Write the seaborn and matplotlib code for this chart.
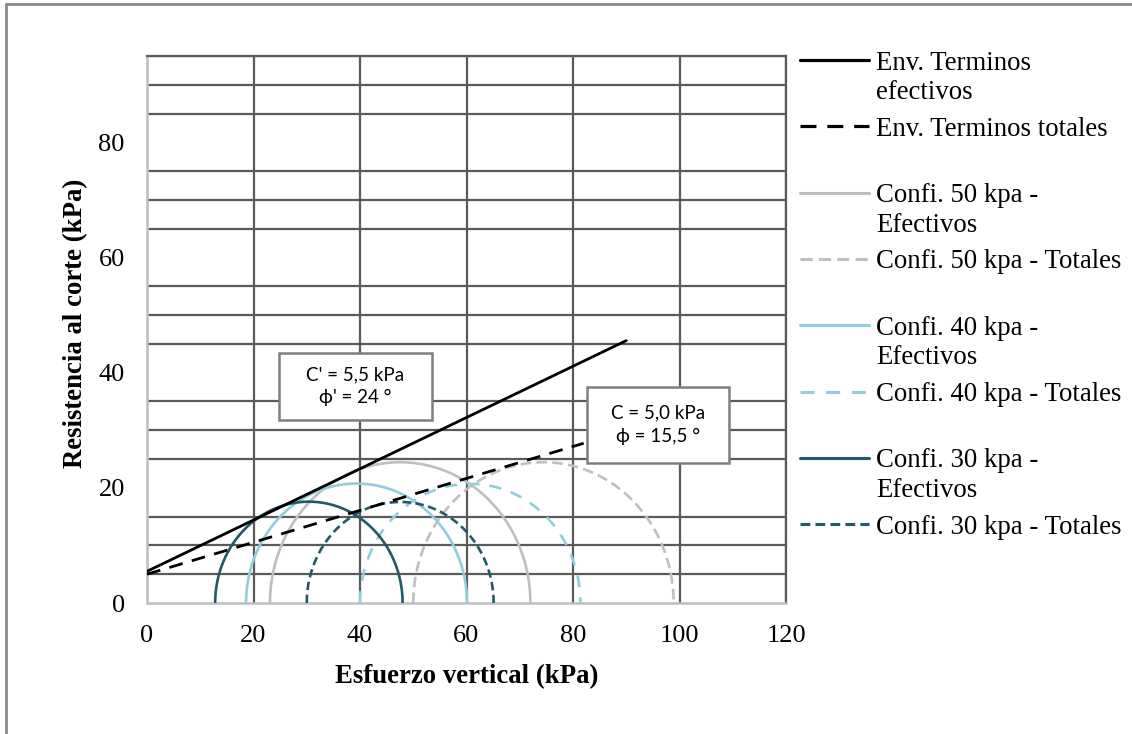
import numpy as np
import pandas as pd
import matplotlib
matplotlib.use("Agg")
import matplotlib.pyplot as plt
from matplotlib.lines import Line2D
from matplotlib.patches import Rectangle
import seaborn as sns

# ---- data -------------------------------------------------------------
# Mohr circles (kPa): minor / major principal stress for each confinement
confinement = [50, 40, 30]
sigma3_eff = [23.1, 18.6, 12.8]
sigma1_eff = [72.0, 60.1, 48.0]
sigma3_tot = [50.0, 40.0, 30.0]
sigma1_tot = [98.9, 81.4, 65.1]

# Failure envelopes: cohesion (kPa), friction angle (deg), last x drawn
c_eff, phi_eff, x_end_eff = 5.5, 24.0, 90.0
c_tot, phi_tot, x_end_tot = 5.0, 15.5, 82.0

x_ticks = [0, 20, 40, 60, 80, 100, 120]
y_ticks = [0, 20, 40, 60, 80]

# ---- styling ------------------------------------------------------------
sns.set_theme(style="white")
plt.rcParams["font.family"] = ["Liberation Serif", "DejaVu Serif"]
plt.rcParams["text.color"] = "black"
plt.rcParams["axes.labelcolor"] = "black"

GRID = "#5a5a5a"
AXIS = "#bfbfbf"
GRAY = "#bfbfbf"
LBLUE = "#92cddc"
TEAL = "#215968"
FS = 19.3
TICK_FS = 19

fig = plt.figure(figsize=(11.32, 7.34), dpi=100)
ax = fig.add_axes([147 / 1132, 1 - 603 / 734, (786 - 147) / 1132, (603 - 56) / 734])


def semicircle(s3, s1, n=181):
    c = (s1 + s3) / 2.0
    r = (s1 - s3) / 2.0
    t = np.linspace(np.pi, 0, n)
    return pd.DataFrame({"sigma": c + r * np.cos(t), "tau": r * np.sin(t)})


def envelope(c, phi, x_end):
    x = np.array([0.0, x_end])
    return pd.DataFrame({"sigma": x, "tau": c + np.tan(np.radians(phi)) * x})


styles = {}

# envelopes
styles["Env. Terminos\nefectivos"] = dict(color="black", lw=2.0, ls="-")
styles["Env. Terminos totales"] = dict(color="black", lw=2.0, ls=(0, (5.0, 3.4)))

circle_colors = {50: GRAY, 40: LBLUE, 30: TEAL}
tot_dashes = {50: (0, (4.0, 2.0)), 40: (0, (4.6, 3.8)), 30: (0, (3.2, 1.7))}

series = []
series.append(("Env. Terminos\nefectivos", envelope(c_eff, phi_eff, x_end_eff)))
series.append(("Env. Terminos totales", envelope(c_tot, phi_tot, x_end_tot)))
for k, s3e, s1e, s3t, s1t in zip(confinement, sigma3_eff, sigma1_eff, sigma3_tot, sigma1_tot):
    le = f"Confi. {k} kpa -\nEfectivos"
    lt = f"Confi. {k} kpa - Totales"
    styles[le] = dict(color=circle_colors[k], lw=1.9, ls="-")
    styles[lt] = dict(color=circle_colors[k], lw=1.9, ls=tot_dashes[k])
    series.append((le, semicircle(s3e, s1e)))
    series.append((lt, semicircle(s3t, s1t)))

# draw circles first, envelopes on top
order = series[2:] + series[:2]
for label, df in order:
    st = styles[label]
    sns.lineplot(data=df, x="sigma", y="tau", ax=ax, sort=False, estimator=None,
                 color=st["color"], linewidth=st["lw"], linestyle=st["ls"],
                 legend=False, zorder=3)

# ---- axes ---------------------------------------------------------------
ax.set_xlim(0, 120)
ax.set_ylim(0, 95)
ax.set_xticks(x_ticks)
ax.set_xticks(np.arange(0, 121, 5), minor=True)
ax.set_yticks(y_ticks)
ax.set_yticks(np.arange(0, 96, 5), minor=True)
ax.set_xticklabels([str(v) for v in x_ticks], fontsize=TICK_FS)
ax.set_yticklabels([str(v) for v in y_ticks], fontsize=TICK_FS)

ax.grid(False)
ax.xaxis.grid(True, which="major", color=GRID, lw=1.6, zorder=1)
ax.yaxis.grid(True, which="minor", color=GRID, lw=1.6, zorder=1)
ax.set_axisbelow(True)

for side in ("left", "bottom"):
    ax.spines[side].set_color(AXIS)
    ax.spines[side].set_linewidth(1.8)
for side in ("top", "right"):
    ax.spines[side].set_color(GRID)
    ax.spines[side].set_linewidth(1.6)

ax.tick_params(axis="x", which="major", direction="inout", length=10, width=1.4,
               color=AXIS, pad=11, labelcolor="black")
ax.tick_params(axis="x", which="minor", direction="in", length=4, width=1.4, color=AXIS)
ax.tick_params(axis="y", which="major", direction="out", length=6, width=1.4,
               color=AXIS, pad=10, labelcolor="black")
ax.tick_params(axis="y", which="minor", length=0)

ax.set_xlabel("Esfuerzo vertical (kPa)", fontsize=FS, fontweight="bold", labelpad=12)
ax.set_ylabel("Resistencia al corte (kPa)", fontsize=FS, fontweight="bold")
ax.yaxis.set_label_coords(-0.092, 0.512)

# ---- parameter boxes ------------------------------------------------------
box_font = ["Lato", "DejaVu Sans"]


def param_box(x0, y0, w, h, text):
    ax.add_patch(Rectangle((x0, y0), w, h, facecolor="white", edgecolor="#7f7f7f",
                           lw=1.8, zorder=5))
    ax.text(x0 + w / 2, y0 + h / 2, text, ha="center", va="center", fontsize=13.5,
            family=box_font, linespacing=1.45, zorder=6, color="black")


fmt = lambda v: f"{v:.1f}".replace(".", ",")
param_box(24.8, 31.8, 28.7, 11.7,
          f"C' = {fmt(c_eff)} kPa\nϕ' = {phi_eff:g} °")
param_box(82.6, 24.3, 26.7, 13.3,
          f"C = {fmt(c_tot)} kPa\nϕ = {fmt(phi_tot)} °")

# ---- legend ---------------------------------------------------------------
W, H = 1132.0, 734.0
legend_order = [
    "Env. Terminos\nefectivos", "Env. Terminos totales",
    "Confi. 50 kpa -\nEfectivos", "Confi. 50 kpa - Totales",
    "Confi. 40 kpa -\nEfectivos", "Confi. 40 kpa - Totales",
    "Confi. 30 kpa -\nEfectivos", "Confi. 30 kpa - Totales",
]
y0, step, line2 = 60.0, 66.3, 29.5
for i, label in enumerate(legend_order):
    st = styles[label]
    yy = y0 + i * step
    fig.add_artist(Line2D([800 / W, 869 / W], [1 - yy / H, 1 - yy / H],
                          transform=fig.transFigure, color=st["color"],
                          lw=st["lw"] + 0.3, ls=st["ls"]))
    for j, part in enumerate(label.split("\n")):
        fig.text(876 / W, 1 - (yy + j * line2) / H, part, fontsize=FS,
                 ha="left", va="center_baseline", color="black")

# outer frame
fig.add_artist(Line2D([6 / W, 6 / W], [0, 1 - 4 / H], transform=fig.transFigure,
                      color="#8a8a8a", lw=2.0))
fig.add_artist(Line2D([6 / W, 1], [1 - 4 / H, 1 - 4 / H], transform=fig.transFigure,
                      color="#8a8a8a", lw=2.0))

fig.savefig("out.png", dpi=100, facecolor="white")
